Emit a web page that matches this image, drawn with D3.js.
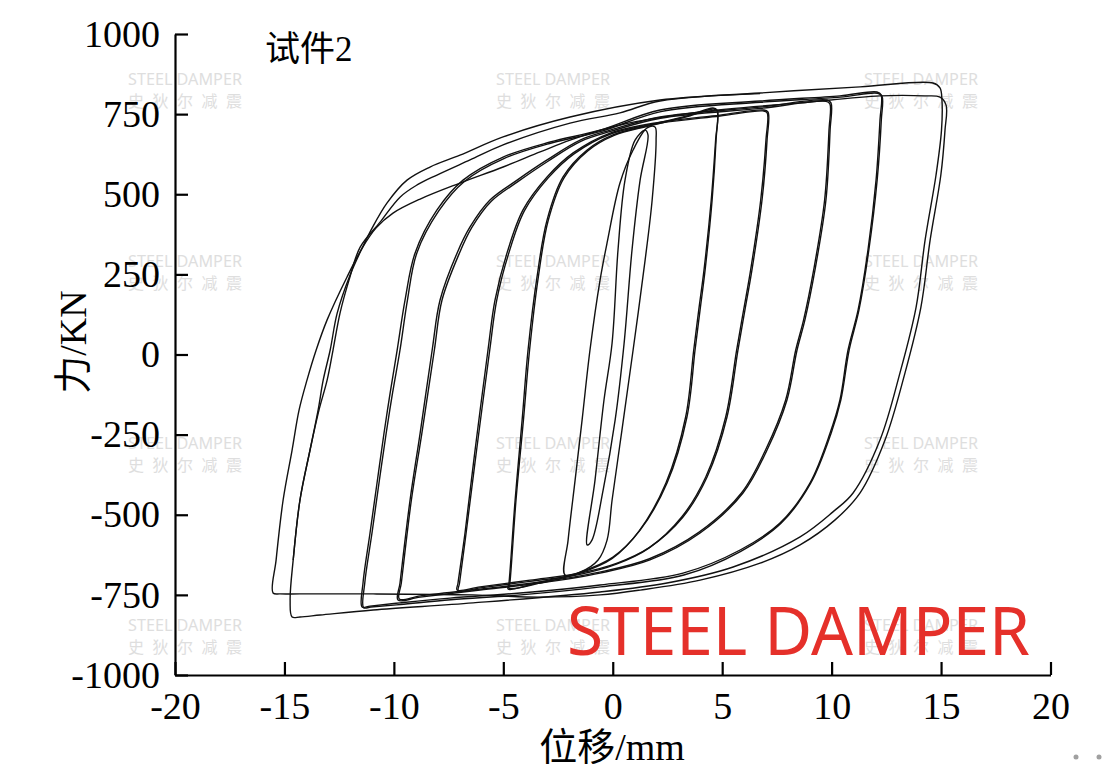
<!DOCTYPE html>
<html><head><meta charset="utf-8">
<script src="https://cdn.jsdelivr.net/npm/d3@7"></script>
<style>body{margin:0;background:#fff}svg{display:block}</style>
</head><body><svg id="c" width="1108" height="768"></svg>
<script>
// ---- tick labels ----
const xTicks = [-20, -15, -10, -5, 0, 5, 10, 15, 20];
const yTicks = [-1000, -750, -500, -250, 0, 250, 500, 750, 1000];
const xLabel = "位移/mm";
const yLabel = "力/KN";
const specimen = "试件2";

// ---- hysteresis loops: [displacement mm, force kN] ----
const loop15a = [[-15.52,-744],[-15.38,-641],[-15.06,-454],[-14.65,-298],[-14.33,-173],[-13.97,-80],[-13.55,14],[-13.05,108],[-12.14,242],[-11.45,332],[-10.81,395],[-10.04,441],[-8.80,485],[-6.98,535],[-5.01,585],[-3.32,632],[-1.95,669],[0.33,716],[3.99,757],[8.56,785],[12.21,807],[14.27,807],[14.95,803],[15.23,778],[15.18,700],[14.99,560],[14.50,357],[14.08,148],[13.35,-58],[12.44,-267],[11.30,-432],[10.16,-516],[8.56,-594],[6.73,-651],[3.99,-704],[1.25,-735],[-0.58,-750],[-3.32,-757],[-6.38,-750],[-10.95,-747],[-14.29,-747],[-15.2,-747]];
const loop15b = [[-14.65,-819],[-14.74,-766],[-14.60,-641],[-14.29,-454],[-13.83,-298],[-13.46,-173],[-13.23,-80],[-12.91,14],[-12.59,129],[-12.00,248],[-11.45,332],[-10.99,395],[-10.31,473],[-9.40,544],[-8.35,585],[-6.98,622],[-5.01,679],[-1.95,741],[2.16,794],[6.73,816],[11.30,835],[14.63,847],[14.95,832],[15.04,794],[15.02,700],[14.77,560],[14.27,357],[13.86,148],[13.12,-58],[12.21,-267],[10.98,-432],[10.06,-491],[8.56,-569],[5.50,-663],[2.48,-713],[-0.58,-741],[-6.38,-775],[-10.95,-797],[-13.37,-813],[-14.29,-819]];
const curve15extra = [[-14.60,-641],[-14.29,-454],[-13.83,-298],[-13.42,-173],[-13.05,-80],[-12.78,14],[-12.46,129],[-12.05,232],[-11.54,335],[-10.63,413],[-9.72,491],[-8.94,529],[-8.03,560],[-6.52,607],[-5.01,654],[-1.95,722],[0.33,754],[2.16,791],[6.73,814]];
const loop12a = [[-11.45,-788],[-11.41,-713],[-11.09,-557],[-10.77,-401],[-10.45,-245],[-10.17,-120],[-9.85,14],[-9.49,170],[-9.03,317],[-8.03,451],[-6.84,544],[-5.01,616],[-2.86,663],[-0.58,700],[2.16,763],[6.73,791],[10.38,807],[12.07,819],[12.26,810],[12.21,732],[12.03,544],[11.66,326],[11.21,139],[10.75,14],[10.38,-142],[9.93,-245],[9.01,-401],[7.64,-526],[5.82,-610],[3.21,-682],[-0.58,-719],[-4.23,-744],[-7.43,-760],[-9.72,-775],[-11.09,-785]];
const loop12b = [[-11.38,-790],[-11.33,-713],[-11.0,-557],[-10.68,-401],[-10.35,-245],[-10.06,-120],[-9.72,14],[-9.38,170],[-8.95,317],[-7.95,448],[-6.78,540],[-4.95,612],[-2.8,660],[-0.5,697],[2.2,758],[6.75,787],[10.4,803],[12.1,815],[12.3,806],[12.27,732],[12.08,544],[11.7,326],[11.25,139],[10.8,14],[10.42,-142],[9.98,-245],[9.05,-401],[7.7,-526],[5.85,-614],[3.25,-688],[-0.55,-725],[-4.2,-750],[-7.4,-765],[-9.7,-780],[-11.05,-788]];
const loop10a = [[-9.81,-766],[-9.72,-713],[-9.26,-454],[-8.80,-245],[-8.25,14],[-7.89,170],[-7.11,317],[-6.52,398],[-5.61,482],[-4.37,544],[-3.00,607],[-1.49,669],[-0.12,700],[2.16,741],[6.73,772],[9.79,794],[9.97,785],[9.93,700],[9.74,482],[9.24,264],[8.78,108],[8.42,14],[7.96,-142],[7.05,-298],[5.95,-432],[3.99,-557],[1.70,-641],[-0.58,-682],[-3.32,-713],[-6.06,-735],[-8.80,-757]];
const loop10b = [[-9.75,-763],[-9.66,-713],[-9.2,-454],[-8.72,-245],[-8.15,14],[-7.8,170],[-7.02,314],[-6.45,395],[-5.55,478],[-4.32,540],[-2.96,603],[-1.46,665],[-0.1,696],[2.18,737],[6.74,768],[9.75,790],[9.92,782],[9.88,700],[9.68,482],[9.18,264],[8.72,108],[8.36,14],[7.9,-142],[6.98,-298],[5.88,-432],[3.93,-555],[1.65,-638],[-0.6,-679],[-3.3,-710],[-6.05,-732],[-8.78,-753]];
const loop7a = [[-7.11,-735],[-7.07,-713],[-6.75,-557],[-6.29,-298],[-5.70,14],[-5.38,170],[-4.83,317],[-4.10,451],[-3.00,554],[-1.81,629],[-0.12,691],[2.16,725],[4.90,747],[6.87,763],[7.09,757],[7.05,669],[6.82,482],[6.36,264],[6.04,139],[5.72,14],[5.22,-195],[4.31,-382],[3.21,-507],[1.70,-601],[0.20,-651],[-1.49,-682],[-3.78,-704],[-6.06,-725]];
const loop7b = [[-7.05,-738],[-7.0,-713],[-6.7,-557],[-6.22,-298],[-5.62,14],[-5.3,170],[-4.76,314],[-4.04,448],[-2.95,551],[-1.77,626],[-0.1,688],[2.18,722],[4.9,744],[6.85,760],[7.05,755],[7.0,669],[6.76,482],[6.3,264],[5.98,139],[5.66,14],[5.16,-195],[4.25,-382],[3.15,-507],[1.65,-604],[0.17,-654],[-1.5,-686],[-3.78,-708],[-6.05,-728]];
const loop5a = [[-4.78,-732],[-4.74,-713],[-4.46,-454],[-4.14,-204],[-3.87,14],[-3.46,242],[-3.00,420],[-2.27,554],[-1.17,638],[0.01,685],[1.70,716],[3.53,747],[4.58,769],[4.76,763],[4.72,669],[4.54,482],[4.22,264],[3.99,139],[3.76,14],[3.39,-195],[2.48,-401],[1.25,-548],[0.01,-632],[-1.49,-679],[-3.32,-710]];
const loop5b = [[-4.74,-729],[-4.7,-713],[-4.42,-454],[-4.08,-204],[-3.8,14],[-3.4,242],[-2.95,418],[-2.22,552],[-1.13,636],[0.04,683],[1.72,714],[3.54,745],[4.6,766],[4.78,760],[4.7,669],[4.5,482],[4.17,264],[3.93,139],[3.7,14],[3.33,-195],[2.43,-401],[1.2,-551],[-0.02,-636],[-1.5,-682],[-3.32,-713]];
const loop2 = [[-2.18,-688],[-2.04,-579],[-1.72,-392],[-1.40,-204],[-1.04,14],[-0.58,232],[-0.26,348],[0.33,535],[0.93,638],[1.57,707],[1.93,710],[1.98,669],[1.80,482],[1.48,295],[0.93,14],[0.42,-236],[-0.03,-454],[-0.26,-579],[-0.67,-641],[-1.49,-679]];
const loopInner = [[-1.17,-594],[-0.81,-392],[-0.40,-142],[-0.03,36],[0.24,326],[0.56,544],[1.02,669],[1.48,700],[1.61,685],[1.25,544],[0.88,326],[0.52,36],[0.11,-204],[-0.44,-423],[-0.95,-579]];

const closedLoops = [loop15a, loop15b, loop12a, loop12b, loop10a, loop10b, loop7a, loop7b, loop5a, loop5b, loop2, loopInner];
const openCurves = [curve15extra];

// ---- decoration texts ----
const wmLine1 = "STEEL DAMPER";
const wmLine2 = "史 狄 尔 减 震";
const bigMark = "STEEL DAMPER";

const svg = d3.select("#c");
const x = d3.scaleLinear().domain([-20, 20]).range([175, 1050.5]);
const y = d3.scaleLinear().domain([-1000, 1000]).range([675, 34]);

// watermarks
const wmX = [185, 553, 921], wmY = [85, 267, 449, 631];
const wm = svg.append("g");
wmY.forEach(by => wmX.forEach(cx => {
  wm.append("text").attr("x", cx - 57).attr("y", by).attr("textLength", 114).attr("lengthAdjust", "spacingAndGlyphs")
    .attr("font-family", "Noto Sans").attr("font-size", 17).attr("fill", "#dedede").text(wmLine1);
  wm.append("text").attr("x", cx - 57).attr("y", by + 22).attr("textLength", 114).attr("lengthAdjust", "spacing")
    .attr("font-family", "Noto Sans CJK SC").attr("font-size", 16).attr("fill", "#dedede").text(wmLine2);
}));

// big red mark
svg.append("text").attr("x", 567).attr("y", 655).attr("textLength", 463).attr("lengthAdjust", "spacingAndGlyphs")
  .attr("font-family", "Noto Sans").attr("font-size", 67).attr("fill", "#e5302a").text(bigMark);

// loops
const lineClosed = d3.line().x(d => x(d[0])).y(d => y(d[1])).curve(d3.curveCatmullRomClosed.alpha(0.5));
const lineOpen = d3.line().x(d => x(d[0])).y(d => y(d[1])).curve(d3.curveCatmullRom.alpha(0.5));
const g = svg.append("g").attr("fill", "none").attr("stroke", "#111").attr("stroke-width", 1.4).attr("stroke-linejoin", "round");
g.selectAll("path.loop").data(closedLoops).join("path").attr("class", "loop").attr("d", lineClosed);
g.selectAll("path.open").data(openCurves).join("path").attr("class", "open").attr("d", lineOpen);

// axes
const fmt = d => String(d);
const xAxis = svg.append("g").attr("transform", "translate(0,675)")
  .call(d3.axisBottom(x).tickValues(xTicks).tickSize(-13).tickSizeOuter(0).tickPadding(17).tickFormat(fmt));
const yAxis = svg.append("g").attr("transform", "translate(175,0)")
  .call(d3.axisLeft(y).tickValues(yTicks).tickSize(-13).tickSizeOuter(0).tickPadding(15).tickFormat(fmt));
[xAxis, yAxis].forEach(a => {
  a.select(".domain").attr("stroke", "#000").attr("stroke-width", 2.2);
  a.selectAll(".tick line").attr("stroke", "#000").attr("stroke-width", 2.2);
  a.selectAll(".tick text").attr("font-family", "Liberation Serif").attr("font-size", 38).attr("fill", "#000");
});

// axis titles
svg.append("text").attr("x", 612).attr("y", 760).attr("text-anchor", "middle")
  .attr("font-family", "Liberation Serif, Noto Sans CJK SC").attr("font-size", 38).attr("fill", "#000").text(xLabel);
svg.append("text").attr("transform", "translate(86,342) rotate(-90)").attr("text-anchor", "middle")
  .attr("font-family", "Liberation Serif, Noto Sans CJK SC").attr("font-size", 38).attr("fill", "#000").text(yLabel);
svg.append("text").attr("x", 265).attr("y", 61)
  .attr("font-family", "Liberation Serif, Noto Sans CJK SC").attr("font-size", 35).attr("fill", "#000").text(specimen);

// corner dots
svg.selectAll("circle.dot").data([1076, 1099]).join("circle").attr("class", "dot")
  .attr("cx", d => d).attr("cy", 757).attr("r", 2.5).attr("fill", "#a0a0a0");
</script></body></html>
